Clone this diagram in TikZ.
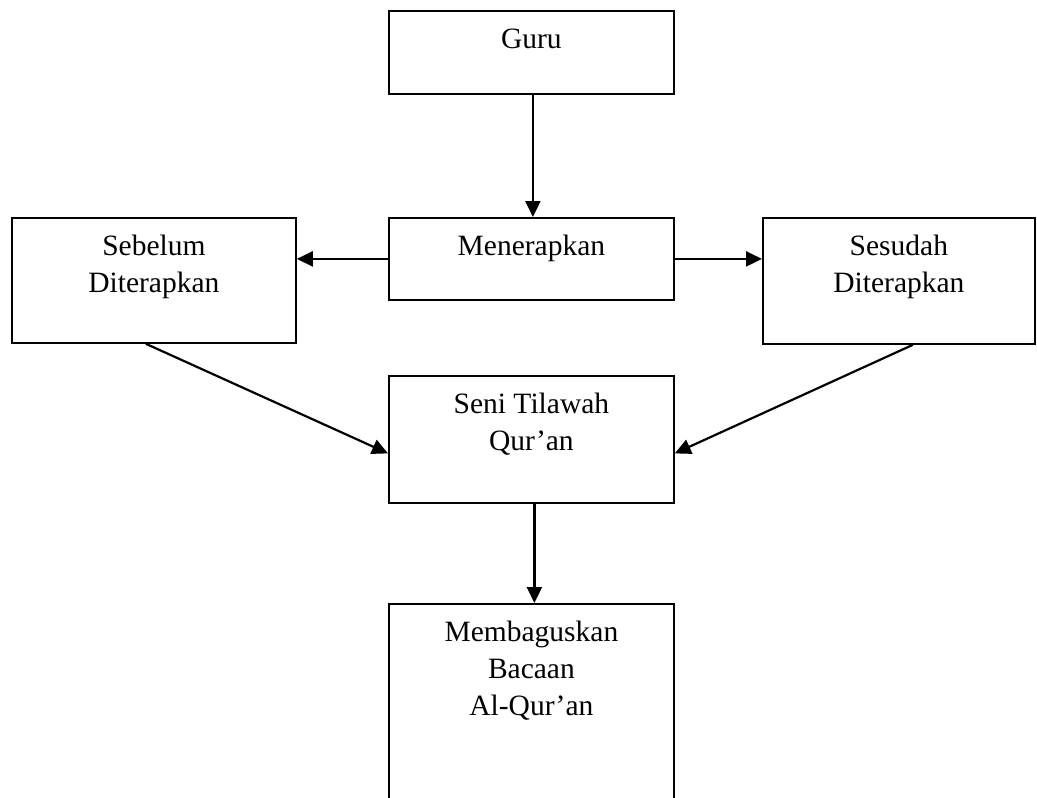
\documentclass[tikz,border=0pt]{standalone}
\usepackage{fontspec}
\setmainfont{Liberation Serif}
\usetikzlibrary{arrows.meta,calc}

\newcommand{\boxtext}[3]{\parbox[c][#2pt][t]{#1pt}{\centering\vspace*{12pt}\strut #3}}

\begin{document}
\begin{tikzpicture}[x=1pt, y=-1pt,
	every node/.style = {draw, line width=1.8pt, inner sep=0pt, anchor=north west,
		font=\fontsize{29.5}{37}\selectfont},
	arr/.style = {line width=2.2pt, -{Triangle[length=16pt, width=15pt]}}
	]
	\useasboundingbox (0,0) rectangle (1037,798);
	\clip (0,0) rectangle (1037,798);
	\node (guru) at (388,10) {\boxtext{285}{83}{Guru}};
	\node (terap) at (388,217) {\boxtext{285}{82}{Menerapkan}};
	\node (sebelum) at (11,217) {\boxtext{284}{125}{Sebelum\\Diterapkan}};
	\node (sesudah) at (762,217) {\boxtext{272}{126}{Sesudah\\Diterapkan}};
	\node (seni) at (388,375) {\boxtext{285}{127}{Seni Tilawah\\Qur'an}};
	\node (bacaan) at (388,603) {\boxtext{285}{210}{Membaguskan\\Bacaan\\Al-Qur'an}};
	% connectors
	\draw[arr] ([xshift=1.5pt]guru.south) -- ([xshift=1.5pt]terap.north);
	\draw[arr] (terap.west) -- (sebelum.east |- terap.west);
	\draw[arr] (terap.east) -- (sesudah.west |- terap.east);
	\draw[arr] ([xshift=-8pt]sebelum.south) -- ([yshift=-14pt]seni.west);
	\draw[arr] ([xshift=14pt]sesudah.south) -- ([yshift=-14pt]seni.east);
	\draw[arr] ([xshift=3pt]seni.south) -- ([xshift=3pt]bacaan.north);
\end{tikzpicture}
\end{document}
